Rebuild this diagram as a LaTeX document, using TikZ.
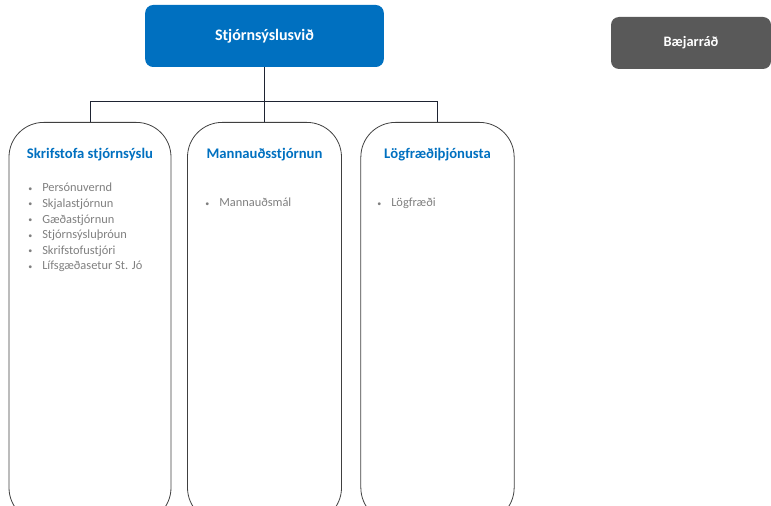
\documentclass[tikz,border=0pt]{standalone}
\usepackage{fontspec}
\setmainfont{Carlito}
\usetikzlibrary{positioning}

\definecolor{svidblue}{RGB}{0,112,192}
\definecolor{radgray}{RGB}{89,89,89}
\definecolor{itemgray}{RGB}{127,127,127}
\definecolor{linenavy}{RGB}{30,35,50}

\newcommand{\itm}[1]{\makebox[10.5pt][l]{\raisebox{0.5pt}{\fontsize{6}{6}\selectfont •}}#1}

\tikzset{
  headbox/.style={fill=svidblue, rounded corners=6pt, minimum width=179pt,
    minimum height=46.5pt, text=white, font=\bfseries\fontsize{12}{14}\selectfont},
  radbox/.style={fill=radgray, rounded corners=6pt, minimum width=120pt,
    minimum height=39pt, text=white, font=\bfseries\fontsize{10.8}{12}\selectfont},
  unitbox/.style={draw=black!75, line width=0.6pt, rounded corners=26pt,
    minimum height=300pt, anchor=north},
  unittitle/.style={text=svidblue, font=\bfseries\fontsize{11}{13}\selectfont},
  itemlist/.style={text=itemgray, align=left, anchor=north west, inner sep=0pt,
    font=\fontsize{9.3}{11.7}\selectfont},
  connector/.style={draw=linenavy, line width=0.6pt}
}

\begin{document}
\begin{tikzpicture}[x=0.75pt, y=-0.75pt]
  % frame of the picture
  \path[use as bounding box, clip] (0,0) rectangle (771,506);

  % top boxes
  \node[headbox] (svid) at (264.5,36) {Stjórnsýslusvið};
  \node[radbox] (rad) at (691,43) {Bæjarráð};

  % the three units
  \node[unitbox, minimum width=121.5pt] (skrif) at (90,122) {};
  \node[unitbox, minimum width=115.5pt] (mann) at (264.5,122) {};
  \node[unitbox, minimum width=115pt] (logf) at (437.5,122) {};

  % unit titles
  \node[unittitle] (skrifTitle) at (90,155) {Skrifstofa stjórnsýslu};
  \node[unittitle] (mannTitle) at (264.5,155) {Mannauðsstjórnun};
  \node[unittitle] (logfTitle) at (437.5,155) {Lögfræðiþjónusta};

  % unit tasks
  \node[itemlist] (skrifItems) at (28,183) {\itm{Persónuvernd}\\ \itm{Skjalastjórnun}\\
    \itm{Gæðastjórnun}\\ \itm{Stjórnsýsluþróun}\\ \itm{Skrifstofustjóri}\\
    \itm{Lífsgæðasetur St. Jó}};
  \node[itemlist] (mannItems) at (205,198) {\itm{Mannauðsmál}};
  \node[itemlist] (logfItems) at (377,198) {\itm{Lögfræði}};

  % connectors
  \coordinate (bus) at (264.5,101);
  \draw[connector] (svid.south) -- (mann.north);
  \draw[connector] (skrif.north) -- (skrif.north |- bus) -- (logf.north |- bus) -- (logf.north);
\end{tikzpicture}
\end{document}
